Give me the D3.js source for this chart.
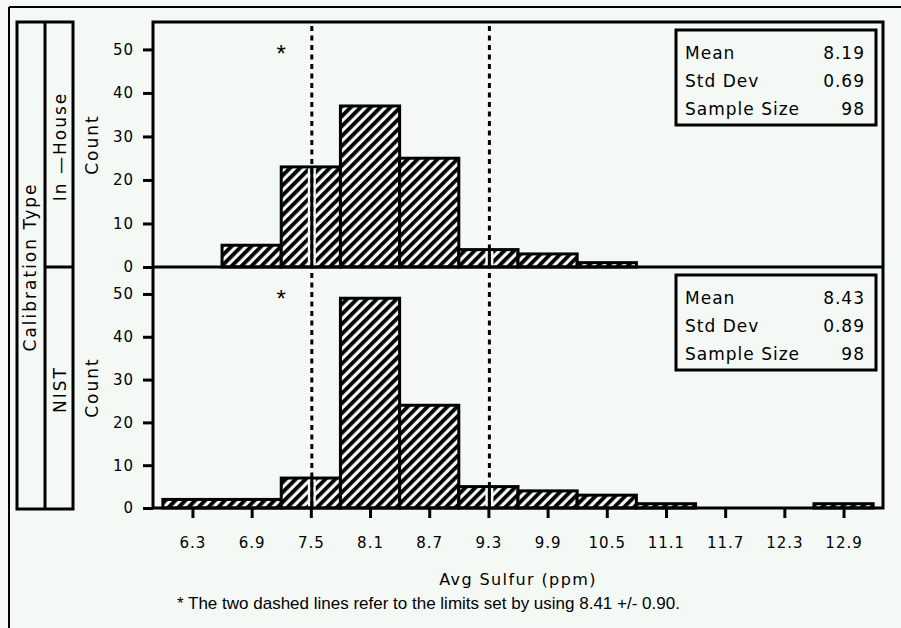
<!DOCTYPE html>
<html>
<head>
<meta charset="utf-8">
<script src="https://cdnjs.cloudflare.com/ajax/libs/d3/7.8.5/d3.min.js"></script>
<style>
body { margin: 0; background: #f5f9f6; }
svg { display: block; }
</style>
</head>
<body>
<div id="graph"></div>
<script>
// Data
var binMids = [6.3, 6.9, 7.5, 8.1, 8.7, 9.3, 9.9, 10.5, 11.1, 11.7, 12.3, 12.9];
var binWidth = 0.6;
var tickLabels = ["6.3", "6.9", "7.5", "8.1", "8.7", "9.3", "9.9", "10.5", "11.1", "11.7", "12.3", "12.9"];
var inHouseCounts = [0, 5, 23, 37, 25, 4, 3, 1, 0, 0, 0, 0];
var nistCounts = [2, 2, 7, 49, 24, 5, 4, 3, 1, 0, 0, 1];
var countTicks = [0, 10, 20, 30, 40, 50];
var panelNames = ["In \u2014House", "NIST"];
var statNames = ["Mean", "Std Dev", "Sample Size"];
var inHouseStats = ["8.19", "0.69", "98"];
var nistStats = ["8.43", "0.89", "98"];
var limitCenter = 8.41;
var limitHalf = 0.90;

var W = 901, H = 628;
var bg = "#f5f9f6";
var sas = "'DejaVu Sans', sans-serif";
var plot = {x0: 153, x1: 883, y0: 22, ymid: 267, y1: 508};

var x = d3.scaleLinear().domain([5.9, 13.3]).range([plot.x0, plot.x1]);
var yMax = 56.3;

var panels = [
    {name: panelNames[0], counts: inHouseCounts, stats: inHouseStats,
     y: d3.scaleLinear().domain([0, yMax]).range([plot.ymid, plot.y0]), top: plot.y0},
    {name: panelNames[1], counts: nistCounts, stats: nistStats,
     y: d3.scaleLinear().domain([0, yMax]).range([plot.y1, plot.ymid]), top: plot.ymid}
];

var svg = d3.select("#graph").append("svg")
    .attr("width", W)
    .attr("height", H);

svg.append("rect").attr("width", W).attr("height", H).attr("fill", bg);

// hatch fill
var pat = svg.append("defs").append("pattern")
    .attr("id", "hatch")
    .attr("patternUnits", "userSpaceOnUse")
    .attr("width", 7)
    .attr("height", 7)
    .attr("patternTransform", "rotate(45)");
pat.append("rect").attr("width", 7).attr("height", 7).attr("fill", bg);
pat.append("rect").attr("width", 3.8).attr("height", 7).attr("fill", "#000");

// outer border (top and left only)
svg.append("line").attr("x1", 9).attr("x2", W).attr("y1", 7).attr("y2", 7)
    .attr("stroke", "#000").attr("stroke-width", 2);
svg.append("line").attr("x1", 9).attr("x2", 9).attr("y1", 7).attr("y2", H)
    .attr("stroke", "#000").attr("stroke-width", 2);

var limits = [limitCenter - limitHalf, limitCenter + limitHalf];

panels.forEach(function(p) {
    var y = p.y;
    // neighbouring bins with the same count are drawn as one bar
    var bins = [];
    binMids.forEach(function(m, i) {
        var c = p.counts[i];
        if (c <= 0) return;
        var last = bins[bins.length - 1];
        if (last && last.count === c && last.hi === i - 1) {
            last.hi = i;
        } else {
            bins.push({lo: i, hi: i, count: c});
        }
    });
    bins.forEach(function(d) {
        d.x0 = binMids[d.lo] - binWidth / 2;
        d.x1 = binMids[d.hi] + binWidth / 2;
    });

    svg.append("g").selectAll("rect").data(bins)
        .enter().append("rect")
        .attr("x", function(d) { return x(d.x0); })
        .attr("width", function(d) { return x(d.x1) - x(d.x0); })
        .attr("y", function(d) { return y(d.count); })
        .attr("height", function(d) { return y(0) - y(d.count); })
        .attr("fill", "url(#hatch)")
        .attr("stroke", "#000")
        .attr("stroke-width", 3);

    // where a limit line crosses a bar it is drawn solid with a clear gap
    limits.forEach(function(lim) {
        var b = bins.filter(function(d) { return lim > d.x0 && lim < d.x1; })[0];
        if (!b) return;
        svg.append("rect")
            .attr("x", x(lim) - 4).attr("width", 8)
            .attr("y", y(b.count) + 1.5).attr("height", y(0) - y(b.count) - 3)
            .attr("fill", bg);
        svg.append("line")
            .attr("x1", x(lim)).attr("x2", x(lim))
            .attr("y1", y(b.count)).attr("y2", y(0))
            .attr("stroke", "#000").attr("stroke-width", 3);
    });

    // asterisk
    svg.append("text")
        .attr("x", x(7.2))
        .attr("y", y(50) + 13)
        .attr("text-anchor", "middle")
        .style("font-family", "'Liberation Sans', Arial, sans-serif")
        .style("font-size", "24px")
        .text("*");

    // y axis
    var ax = svg.append("g")
        .attr("transform", "translate(" + plot.x0 + ",0)")
        .call(d3.axisLeft(y).tickValues(countTicks).tickSize(10).tickPadding(9));
    ax.select(".domain").remove();
    ax.selectAll("line").attr("stroke", "#000").attr("stroke-width", 3);
    ax.selectAll("text")
        .attr("fill", "#000")
        .style("font-family", sas)
        .style("font-size", "15px")
        .style("letter-spacing", "1px");

    // Count label
    var cy = (y(0) + p.top) / 2;
    svg.append("text")
        .attr("transform", "translate(92," + cy + ") rotate(-90)")
        .attr("text-anchor", "middle")
        .attr("dy", "0.36em")
        .style("font-family", sas)
        .style("font-size", "17px")
        .style("letter-spacing", "2px")
        .text("Count");

    // panel label
    svg.append("text")
        .attr("transform", "translate(60," + (cy + 2) + ") rotate(-90)")
        .attr("text-anchor", "middle")
        .attr("dy", "0.36em")
        .style("font-family", sas)
        .style("font-size", "17px")
        .style("letter-spacing", "2px")
        .text(p.name);

    // stats box
    var bx = plot.x1 - 207, by = p.top + 8;
    svg.append("rect")
        .attr("x", bx).attr("y", by).attr("width", 200).attr("height", 95)
        .attr("fill", bg).attr("stroke", "#000").attr("stroke-width", 3);
    statNames.forEach(function(s, i) {
        svg.append("text")
            .attr("x", bx + 9).attr("y", by + 29 + i * 28)
            .style("font-family", sas).style("font-size", "17px").style("letter-spacing", "1px")
            .text(s);
        svg.append("text")
            .attr("x", bx + 189).attr("y", by + 29 + i * 28)
            .attr("text-anchor", "end")
            .style("font-family", sas).style("font-size", "17px").style("letter-spacing", "1px")
            .text(p.stats[i]);
    });
});

// dashed limit lines
svg.selectAll(".limit").data(limits)
    .enter().append("line")
    .attr("class", "limit")
    .attr("x1", function(d) { return x(d); })
    .attr("x2", function(d) { return x(d); })
    .attr("y1", plot.y0 + 4)
    .attr("y2", plot.y1)
    .attr("stroke", "#000")
    .attr("stroke-width", 3)
    .attr("stroke-dasharray", "5,4.5");

// plot frame and panel divider
svg.append("rect")
    .attr("x", plot.x0).attr("y", plot.y0)
    .attr("width", plot.x1 - plot.x0).attr("height", plot.y1 - plot.y0)
    .attr("fill", "none").attr("stroke", "#000").attr("stroke-width", 3);
svg.append("line")
    .attr("x1", plot.x0).attr("x2", plot.x1)
    .attr("y1", plot.ymid).attr("y2", plot.ymid)
    .attr("stroke", "#000").attr("stroke-width", 3);

// left label boxes
svg.append("rect")
    .attr("x", 17).attr("y", plot.y0).attr("width", 56).attr("height", plot.y1 - plot.y0 + 1)
    .attr("fill", "none").attr("stroke", "#000").attr("stroke-width", 3);
svg.append("line").attr("x1", 45).attr("x2", 45).attr("y1", plot.y0).attr("y2", plot.y1 + 1)
    .attr("stroke", "#000").attr("stroke-width", 3);
svg.append("line").attr("x1", 45).attr("x2", 73).attr("y1", plot.ymid).attr("y2", plot.ymid)
    .attr("stroke", "#000").attr("stroke-width", 3);
svg.append("text")
    .attr("transform", "translate(30," + plot.ymid + ") rotate(-90)")
    .attr("text-anchor", "middle")
    .attr("dy", "0.36em")
    .style("font-family", sas)
    .style("font-size", "17px")
    .style("letter-spacing", "2px")
    .text("Calibration Type");

// x axis
var xa = svg.append("g")
    .attr("transform", "translate(0," + plot.y1 + ")")
    .call(d3.axisBottom(x).tickValues(binMids)
        .tickFormat(function(d, i) { return tickLabels[i]; })
        .tickSize(10).tickPadding(19));
xa.select(".domain").remove();
xa.selectAll("line").attr("stroke", "#000").attr("stroke-width", 3);
xa.selectAll("text")
    .attr("fill", "#000")
    .attr("dy", "0.73em")
    .style("font-family", sas)
    .style("font-size", "15px")
    .style("letter-spacing", "1px");

svg.append("text")
    .attr("x", (plot.x0 + plot.x1) / 2)
    .attr("y", 585)
    .attr("text-anchor", "middle")
    .style("font-family", sas)
    .style("font-size", "16px")
    .style("letter-spacing", "1.4px")
    .text("Avg Sulfur (ppm)");

svg.append("text")
    .attr("x", 177)
    .attr("y", 609)
    .style("font-family", "'Liberation Sans', Arial, sans-serif")
    .style("font-size", "17px")
    .text("* The two dashed lines refer to the limits set by using 8.41 +/- 0.90.");
</script>
</body>
</html>
